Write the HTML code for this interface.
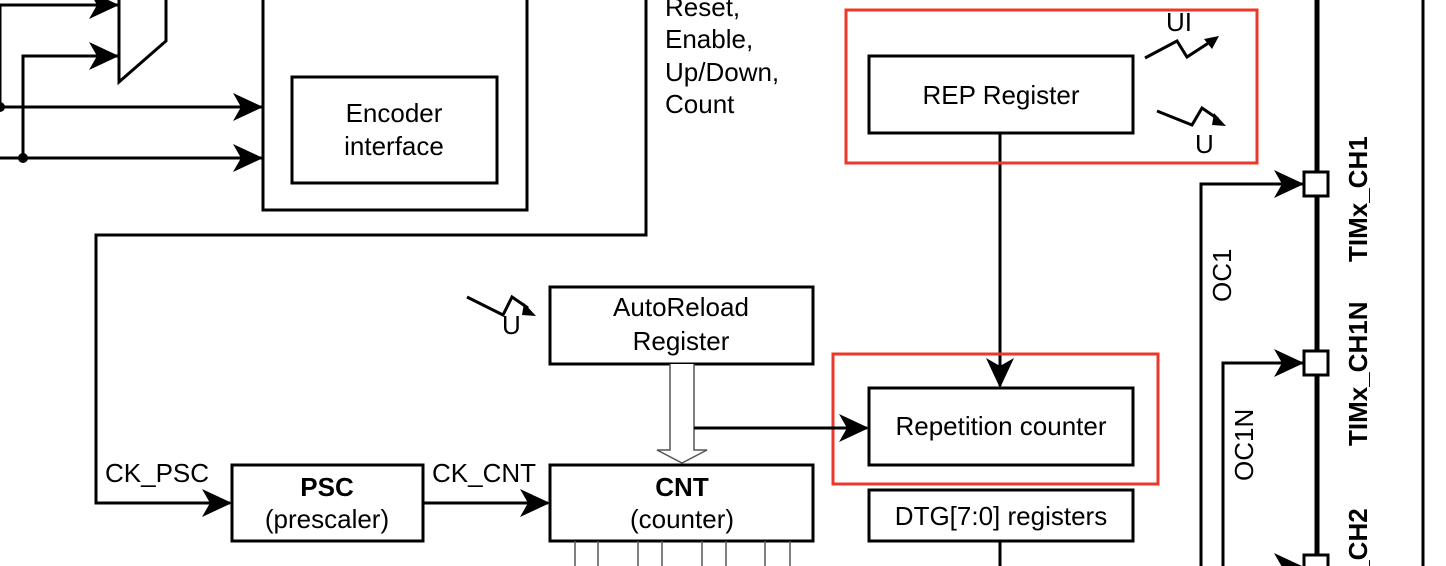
<!DOCTYPE html>
<html><head><meta charset="utf-8"><style>
html,body{margin:0;padding:0;background:#fff;overflow:hidden;width:1446px;height:566px;}
svg{display:block;}
text{font-family:"Liberation Sans",Arial,sans-serif;fill:#000;}
</style></head><body>
<svg width="1446" height="566" viewBox="0 0 1446 566" xmlns="http://www.w3.org/2000/svg">
<defs>
<path id="ar" d="M0 0 L-30 -14 L-22 0 L-30 14 Z" fill="#000"/>
</defs>
<g stroke="#000" stroke-width="3" fill="none">
<polyline points="0,107 0,5 119,5"/>
<polyline points="23,158 23,56 119,56"/>
<line x1="0" y1="107" x2="262" y2="107"/>
<line x1="0" y1="158" x2="262" y2="158"/>
<polyline points="166,0 166,41 119,82 119,0"/>
<polyline points="263,0 263,210 527,210 527,0"/>
<rect x="292" y="77" width="205" height="106"/>
<polyline points="646,0 646,235 96,235 96,503 230,503"/>
<rect x="232" y="465" width="191" height="76"/>
<line x1="423" y1="503" x2="548" y2="503"/>
<rect x="550" y="287" width="263" height="77"/>
<rect x="550" y="465" width="263" height="76"/>
<rect x="869" y="56" width="264" height="77"/>
<rect x="869" y="388" width="264" height="77"/>
<rect x="869" y="490" width="264" height="51"/>
<line x1="1000" y1="133" x2="1000" y2="386"/>
<line x1="1000" y1="541" x2="1000" y2="566"/>
<polyline points="1201,566 1201,184 1303,184"/>
<polyline points="1223,566 1223,363 1303,363"/>
</g>
<rect x="846" y="10" width="411" height="153" fill="none" stroke="#e8392b" stroke-width="3"/>
<rect x="833" y="354" width="325" height="130" fill="none" stroke="#e8392b" stroke-width="3"/>
<g stroke="#555" stroke-width="1.5" fill="#fff">
<path d="M670 364 L670 450 L657 450 L682 463 L707 450 L694 450 L694 364"/>
<line x1="575" y1="541" x2="575" y2="566"/><line x1="598" y1="541" x2="598" y2="566"/>
<line x1="638" y1="541" x2="638" y2="566"/><line x1="662" y1="541" x2="662" y2="566"/>
<line x1="702" y1="541" x2="702" y2="566"/><line x1="726" y1="541" x2="726" y2="566"/>
<line x1="765" y1="541" x2="765" y2="566"/><line x1="790" y1="541" x2="790" y2="566"/>
</g>
<line x1="694" y1="428" x2="867" y2="428" stroke="#000" stroke-width="3"/>
<line x1="1317" y1="0" x2="1317" y2="566" stroke="#000" stroke-width="5"/>
<line x1="1423" y1="0" x2="1423" y2="566" stroke="#000" stroke-width="3"/>
<g fill="#fff" stroke="#000" stroke-width="3">
<rect x="1304" y="172" width="24" height="24"/>
<rect x="1304" y="351" width="24" height="24"/>
<rect x="1304" y="555" width="24" height="24"/>
</g>
<use href="#ar" transform="translate(119,5)"/>
<use href="#ar" transform="translate(119,56)"/>
<use href="#ar" transform="translate(263,107)"/>
<use href="#ar" transform="translate(263,158)"/>
<use href="#ar" transform="translate(232,503)"/>
<use href="#ar" transform="translate(550,503)"/>
<use href="#ar" transform="translate(869,428)"/>
<use href="#ar" transform="translate(1000,388) rotate(90)"/>
<use href="#ar" transform="translate(1304,184)"/>
<use href="#ar" transform="translate(1304,363)"/>
<use href="#ar" transform="translate(1304,567)"/>
<circle cx="0" cy="107" r="5" fill="#000"/>
<circle cx="23" cy="158" r="5" fill="#000"/>
<g stroke="#000" stroke-width="3" fill="none">
<polyline points="1145,58 1177,41 1187,57 1210,42"/>
<polyline points="1157,111 1192,125 1202,108 1218,119"/>
<polyline points="467,297 503,315 512,297 528,308"/>
</g>
<path d="M1219 36 L1204 39 L1212 49 Z" fill="#000"/>
<path d="M1226 126 L1214 113 L1212 125 Z" fill="#000"/>
<path d="M536 316 L524 303 L522 315 Z" fill="#000"/>
<g font-size="26">
<text x="1166" y="31">UI</text>
<text x="1195" y="153">U</text>
<text x="502" y="334">U</text>
<text x="665" y="16">Reset,</text>
<text x="665" y="48">Enable,</text>
<text x="665" y="81">Up/Down,</text>
<text x="665" y="113">Count</text>
<text x="394" y="122" text-anchor="middle">Encoder</text>
<text x="394" y="155" text-anchor="middle">interface</text>
<text x="1001" y="104" text-anchor="middle">REP Register</text>
<text x="681" y="316" text-anchor="middle">AutoReload</text>
<text x="681" y="350" text-anchor="middle">Register</text>
<text x="1001" y="435" text-anchor="middle">Repetition counter</text>
<text x="1001" y="525" text-anchor="middle">DTG[7:0] registers</text>
<text x="105" y="482">CK_PSC</text>
<text x="432" y="482">CK_CNT</text>
<text x="327" y="496" text-anchor="middle" font-weight="bold">PSC</text>
<text x="327" y="528" text-anchor="middle">(prescaler)</text>
<text x="682" y="496" text-anchor="middle" font-weight="bold">CNT</text>
<text x="682" y="528" text-anchor="middle">(counter)</text>
<text transform="translate(1231,302) rotate(-90)">OC1</text>
<text transform="translate(1253,481) rotate(-90)">OC1N</text>
<text transform="translate(1367,262) rotate(-90)" font-weight="bold">TIMx_CH1</text>
<text transform="translate(1367,446) rotate(-90)" font-weight="bold">TIMx_CH1N</text>
<text transform="translate(1367,634) rotate(-90)" font-weight="bold">TIMx_CH2</text>
</g>
</svg>
</body></html>
